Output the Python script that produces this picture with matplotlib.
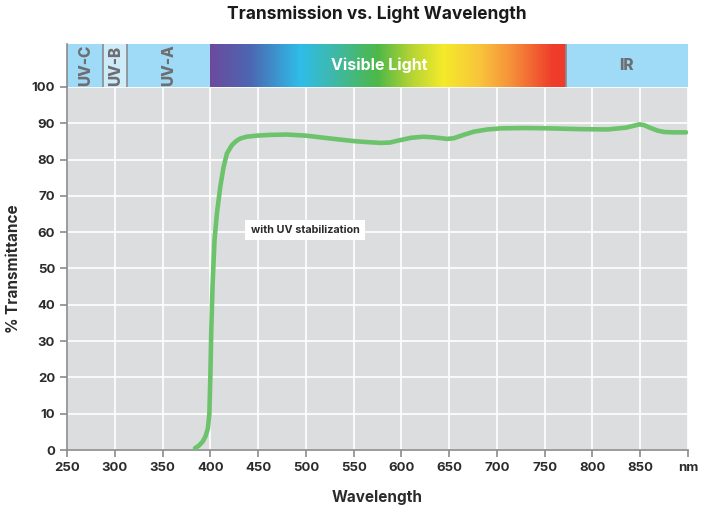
import matplotlib.pyplot as plt
import numpy as np
from matplotlib.colors import LinearSegmentedColormap

plt.rcParams['font.family'] = ['Inter', 'DejaVu Sans']

# transmission curve (nm, % transmittance)
wavelength = [384, 388, 392, 395, 397.5, 399, 400, 401, 402.3, 403.5, 404.4, 406.9, 410.4,
              413.9, 417.4, 422.6, 427, 431.3, 438, 448.8, 462, 480, 500, 526, 550, 565,
              578, 588, 596, 610, 623, 635, 648, 655, 665, 676, 690, 704, 730, 756, 785,
              816, 835, 843, 849, 854, 859, 868, 875, 885, 898]
transmittance = [0.5, 1.2, 2.3, 3.8, 6.0, 10.1, 20, 33, 45, 52.5, 57.9, 65.2, 72.5,
                 78, 81.7, 84, 85.1, 85.8, 86.3, 86.6, 86.8, 86.9, 86.6, 85.8, 85.1, 84.8,
                 84.6, 84.7, 85.2, 86.0, 86.3, 86.1, 85.7, 85.9, 86.8, 87.7, 88.3, 88.6,
                 88.7, 88.6, 88.4, 88.3, 88.8, 89.3, 89.7, 89.5, 88.9, 88.0, 87.6, 87.5, 87.5]

x_ticks = [250, 300, 350, 400, 450, 500, 550, 600, 650, 700, 750, 800, 850, 900]
x_tick_labels = ['250', '300', '350', '400', '450', '500', '550', '600', '650',
                 '700', '750', '800', '850', 'nm']
y_ticks = [0, 10, 20, 30, 40, 50, 60, 70, 80, 90, 100]

# spectral bands along the top
band_names = ['UV-C', 'UV-B', 'UV-A', 'IR']
band_start = [250, 288, 313, 772]
band_end = [288, 313, 400, 900]
band_colors = ['#9fdaf6', '#cdebf9', '#9fdaf6', '#9fdaf6']
visible_range = (400, 772)

# visible light gradient stops (nm, colour)
spectrum_nm = [400, 442, 494, 526, 575, 610, 644, 683, 714, 759, 772]
spectrum_colors = ['#6c4a9d', '#4c67b2', '#2fbde9', '#3db9b0', '#4db848', '#b4d334',
                   '#f4eb2a', '#f9c33c', '#f6923a', '#ee3d2b', '#ee3b2a']

fig = plt.figure(figsize=(7.04, 5.09), dpi=100)
ax = fig.add_axes([0.0952, 0.1159, 0.8821, 0.7132])
band_ax = fig.add_axes([0.0952, 0.8291, 0.8821, 0.0845], sharex=ax)

grey = '#8a8b8d'
ax.set_facecolor('#dcdddf')
ax.plot(wavelength, transmittance, color='#6cc36b', lw=3.3, solid_capstyle='round',
        solid_joinstyle='round', zorder=3)
ax.set_xlim(250, 900)
ax.set_ylim(0, 100)
ax.set_xticks(x_ticks)
ax.set_xticklabels(x_tick_labels)
ax.set_yticks(y_ticks)
ax.grid(True, color='white', lw=1.2)
ax.set_axisbelow(True)
for side in ['top', 'right']:
    ax.spines[side].set_visible(False)
for side in ['left', 'bottom']:
    ax.spines[side].set_color(grey)
    ax.spines[side].set_linewidth(1.2)
ax.tick_params(colors=grey, length=5, width=1.2, labelcolor='#2b2b2b', labelsize=9.5)
for lbl in ax.get_xticklabels() + ax.get_yticklabels():
    lbl.set_fontweight('bold')
ax.set_xlabel('Wavelength', fontsize=11, fontweight='bold', color='#2b2b2b', labelpad=12)
ax.set_ylabel('% Transmittance', fontsize=11, fontweight='bold', color='#2b2b2b', labelpad=8)

ax.text(499, 60.6, 'with UV stabilization', fontsize=7.8, fontweight='bold', color='#2b2b2b',
        ha='center', va='center',
        bbox=dict(facecolor='white', edgecolor='none', boxstyle='square,pad=0.5'))

# top band
for name, s, e, c in zip(band_names, band_start, band_end, band_colors):
    band_ax.axvspan(s, e, color=c, lw=0)
    if name == 'IR':
        band_ax.text((s + e) / 2, 0.5, name, ha='center', va='center', fontsize=11,
                     fontweight='heavy', color='#6d6e71')
    else:
        band_ax.text((s + e) / 2, 0.5, name, ha='center', va='center', fontsize=11,
                     fontweight='heavy', color='#6d6e71', rotation=90)
for xv in [288, 313, 772]:
    band_ax.axvline(xv, color=grey, lw=1.2)

pos = [(n - visible_range[0]) / (visible_range[1] - visible_range[0]) for n in spectrum_nm]
cmap = LinearSegmentedColormap.from_list('spectrum', list(zip(pos, spectrum_colors)))
band_ax.imshow(np.linspace(0, 1, 256)[None, :], cmap=cmap, aspect='auto',
               extent=[visible_range[0], visible_range[1], 0, 1], zorder=1)
band_ax.text(577, 0.5, 'Visible Light', ha='center', va='center',
             fontsize=11.5, fontweight='bold', color='white', zorder=3)
band_ax.set_xlim(250, 900)
band_ax.set_ylim(0, 1)
band_ax.set_yticks([])
band_ax.tick_params(axis='x', bottom=False, labelbottom=False)
for side in ['top', 'right', 'bottom']:
    band_ax.spines[side].set_visible(False)
band_ax.spines['left'].set_color(grey)
band_ax.spines['left'].set_linewidth(1.2)

fig.text(0.535, 0.972, 'Transmission vs. Light Wavelength', ha='center', va='center',
         fontsize=12.5, fontweight='bold', color='#1a1a1a')

fig.savefig('out.png', dpi=100)
